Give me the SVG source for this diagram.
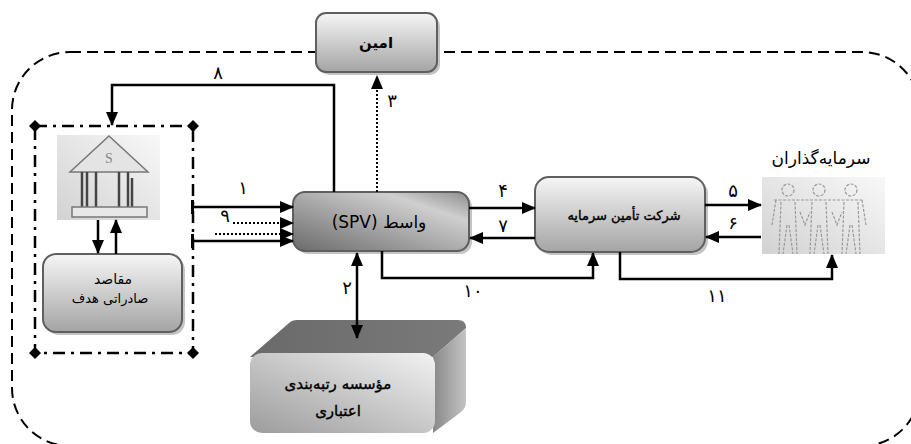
<svg xmlns="http://www.w3.org/2000/svg" width="911" height="444" viewBox="0 0 911 444">
<style>
.lbl{font-family:"DejaVu Sans",sans-serif;fill:#000;text-anchor:middle}
.num{font-family:"DejaVu Sans",sans-serif;font-size:18px;fill:#000;text-anchor:middle}
.box{stroke:#5f5f5f;stroke-width:2}
.shadow{fill:#c4c4c4}
.con{fill:none;stroke:#000;stroke-width:2.5}
.dot{fill:none;stroke:#000;stroke-width:2;stroke-dasharray:2 2}
.heavy{stroke:#000;stroke-width:0.4}
</style>
<defs>
<linearGradient id="gBox" x1="0" y1="0" x2="0" y2="1">
<stop offset="0" stop-color="#f6f6f6"/><stop offset="1" stop-color="#a4a4a4"/>
</linearGradient>
<linearGradient id="gSpv" x1="0" y1="1" x2="1" y2="0">
<stop offset="0" stop-color="#6a6a6a"/><stop offset="0.75" stop-color="#cfcfcf"/><stop offset="1" stop-color="#8c8c8c"/>
</linearGradient>
<linearGradient id="gFront" x1="0" y1="1" x2="1" y2="0">
<stop offset="0" stop-color="#9c9c9c"/><stop offset="1" stop-color="#f2f2f2"/>
</linearGradient>
<linearGradient id="gTop" x1="0" y1="0" x2="1" y2="0">
<stop offset="0" stop-color="#6a6a6a"/><stop offset="1" stop-color="#7a7a7a"/>
</linearGradient>
<linearGradient id="gSide" x1="0" y1="0" x2="1" y2="0">
<stop offset="0" stop-color="#888"/><stop offset="1" stop-color="#c4c4c4"/>
</linearGradient>
<linearGradient id="gImg" x1="0" y1="1" x2="1" y2="0">
<stop offset="0" stop-color="#d2d2d2"/><stop offset="1" stop-color="#f8f8f8"/>
</linearGradient>
<marker id="ah" viewBox="0 0 14 12" refX="13" refY="6" markerWidth="14" markerHeight="12" markerUnits="userSpaceOnUse" orient="auto-start-reverse">
<path d="M0,0 L14,6 L0,12 Z" fill="#000"/>
</marker>
<marker id="tee" viewBox="0 0 4 14" refX="2" refY="7" markerWidth="4" markerHeight="14" markerUnits="userSpaceOnUse" orient="auto">
<rect x="0" y="0" width="3" height="14" fill="#000"/>
</marker>
<marker id="dia" viewBox="0 0 12 12" refX="6" refY="6" markerWidth="12" markerHeight="12" markerUnits="userSpaceOnUse">
<path d="M6,0 L12,6 L6,12 L0,6 Z" fill="#000"/>
</marker>
</defs>
<rect width="911" height="444" fill="#fff"/>

<!-- outer dashed boundary -->
<rect id="boundary" x="12" y="52" width="908" height="394" rx="58" fill="none" stroke="#000" stroke-width="2" stroke-dasharray="11 6"/>

<!-- dash-dot group frame -->
<g id="exporter-group">
<path d="M35,126 H193 V353 H35 Z" fill="none" stroke="#000" stroke-width="2.5" stroke-dasharray="12 6 3 6"/>
<path d="M35,126 L193,126 L193,353 L35,353" fill="none" stroke="none" marker-start="url(#dia)" marker-mid="url(#dia)" marker-end="url(#dia)"/>
</g>

<g id="node-bank">
<rect x="57" y="135" width="103" height="85" fill="url(#gImg)"/>
<path d="M109,136 L148,172 L70,172 Z" fill="#e4e4e4" stroke="#777" stroke-width="1.5"/>
<text x="109" y="163" font-family="'Liberation Serif',serif" font-size="14" fill="#888" text-anchor="middle">S</text>
<g stroke="#444" stroke-width="2.5">
<line x1="82" y1="172" x2="82" y2="207"/><line x1="87" y1="172" x2="87" y2="207"/>
<line x1="96" y1="172" x2="96" y2="207"/>
<line x1="119" y1="172" x2="119" y2="207"/>
<line x1="128" y1="172" x2="128" y2="207"/><line x1="132" y1="178" x2="132" y2="207"/>
</g>
<rect x="72" y="207" width="75" height="10" fill="#e8e8e8" stroke="#777" stroke-width="1.5"/>
</g>

<g id="node-amin">
<rect class="shadow" x="319" y="16" width="121" height="59" rx="10"/>
<rect class="box" x="316" y="13" width="121" height="59" rx="10" fill="url(#gBox)"/>
<text class="lbl" x="376" y="48" style="font-size:15px;font-weight:bold" direction="rtl">امین</text>
</g>

<g id="node-maqased">
<rect class="shadow" x="46" y="257" width="139" height="78" rx="13"/>
<rect class="box" x="43" y="254" width="139" height="78" rx="13" fill="url(#gBox)"/>
<text class="lbl" x="113" y="284" style="font-size:14px" direction="rtl">مقاصد</text>
<text class="lbl" x="110" y="303" style="font-size:13px" direction="rtl">صادراتی هدف</text>
</g>

<g id="node-spv">
<rect class="shadow" x="296" y="195" width="176" height="59" rx="12"/>
<rect class="box" x="293" y="192" width="176" height="59" rx="12" fill="url(#gSpv)"/>
<text class="lbl" x="379" y="228" style="font-size:17px" direction="rtl">واسط (SPV)</text>
</g>

<g id="node-company">
<rect class="shadow" x="538" y="180" width="170" height="75" rx="14"/>
<rect class="box" x="535" y="177" width="170" height="75" rx="14" fill="url(#gBox)"/>
<text class="lbl heavy" x="624" y="220" style="font-size:13px" direction="rtl">شرکت تأمین سرمایه</text>
</g>

<g id="node-investors">
<text class="lbl" x="821" y="164" style="font-size:17px" direction="rtl">سرمایه‌گذاران</text>
<rect x="762" y="177" width="123" height="77" fill="url(#gImg)"/>
<g fill="none" stroke="#9a9a9a" stroke-width="1.2" stroke-dasharray="3 1.5">
<circle cx="788" cy="190" r="6"/><circle cx="819" cy="190" r="6"/><circle cx="851" cy="190" r="6"/>
<path d="M774,200 H864 M776,200 L772,225 M862,200 L866,225"/>
<path d="M781,202 L779,254 M795,202 L797,254 M787,225 L783,254 M789,225 L793,254"/>
<path d="M812,202 L810,254 M826,202 L828,254 M818,225 L814,254 M820,225 L824,254"/>
<path d="M844,202 L842,254 M858,202 L860,254 M850,225 L846,254 M852,225 L856,254"/>
<path d="M800,212 L805,225 L810,212 M832,212 L837,225 L842,212"/>
</g>
</g>

<g id="node-rating">
<path d="M250,357 L289,323 Q292,320 297,320 L458,320 Q466,320 466,328 L433,357 Z" fill="url(#gTop)"/>
<path d="M433,357 L466,328 L466,402 Q466,408 461,412 L433,433 Z" fill="url(#gSide)"/>
<rect x="250" y="353" width="185" height="80" rx="12" fill="url(#gFront)"/>
<text class="lbl heavy" x="338" y="389" style="font-size:15px" direction="rtl">مؤسسه رتبه‌بندی</text>
<text class="lbl heavy" x="338" y="416" style="font-size:15px" direction="rtl">اعتباری</text>
</g>

<g id="connectors">
<path class="con" d="M334,192 V85 H112 V125" marker-end="url(#ah)"/>
<path class="dot" d="M377,192 V76" marker-end="url(#ah)"/>
<path class="con" d="M193,207 H293" marker-start="url(#tee)" marker-end="url(#ah)"/>
<path class="dot" d="M233,223 H293" marker-end="url(#ah)"/>
<path class="dot" d="M215,234 H293" marker-end="url(#ah)"/>
<path class="con" d="M193,241 H293" marker-start="url(#tee)" marker-end="url(#ah)"/>
<path class="con" d="M469,208 H535" marker-end="url(#ah)"/>
<path class="con" d="M535,238 H470" marker-end="url(#ah)"/>
<path class="con" d="M705,205 H761" marker-end="url(#ah)"/>
<path class="con" d="M761,237 H706" marker-end="url(#ah)"/>
<path class="con" d="M382,251 V278 H593 V253" marker-end="url(#ah)"/>
<path class="con" d="M620,252 V279 H832 V255" marker-end="url(#ah)"/>
<path class="con" d="M357,253 V338" marker-start="url(#ah)" marker-end="url(#ah)"/>
<path class="con" d="M98,220 V253" marker-end="url(#ah)"/>
<path class="con" d="M116,254 V220" marker-end="url(#ah)"/>
<text class="num" x="218" y="79">۸</text>
<text class="num" x="392" y="107">۳</text>
<text class="num" x="243" y="194">۱</text>
<text class="num" x="225" y="222">۹</text>
<text class="num" x="503" y="197">۴</text>
<text class="num" x="503" y="232">۷</text>
<text class="num" x="733" y="197">۵</text>
<text class="num" x="733" y="229">۶</text>
<text class="num" x="473" y="297">۱۰</text>
<text class="num" x="717" y="302">۱۱</text>
<text class="num" x="347" y="294">۲</text>
</g>
</svg>
